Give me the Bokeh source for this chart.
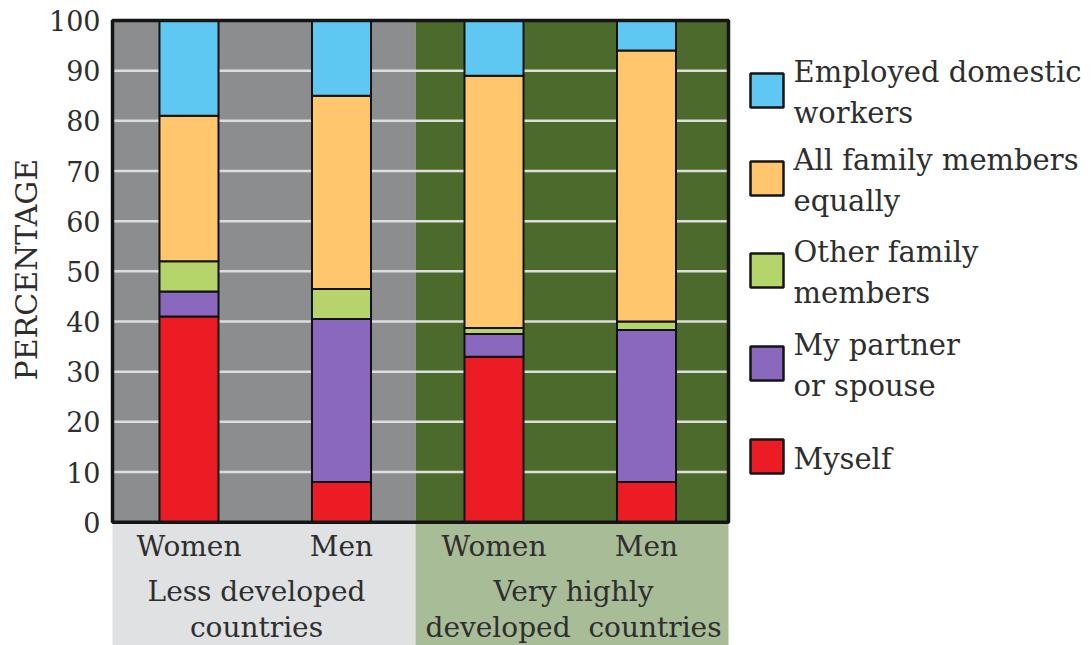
from bokeh.plotting import figure
from bokeh.models import ColumnDataSource, FixedTicker, Title
from bokeh.core.properties import value
from bokeh.embed import file_html
from bokeh.resources import INLINE

# ---- data ---------------------------------------------------------------
categories = ["Women", "Men", "Women", "Men"]
group_labels = ["Less developed\ncountries", "Very highly\ndeveloped\u00a0 countries"]

# stacked from the bottom up, percentages per bar
myself = [41, 8, 33, 8]
partner = [5, 32.5, 4.5, 30.3]
other_family = [6, 6, 1.2, 1.7]
all_equal = [29, 38.5, 50.3, 54]
employed = [19, 15, 11, 6]

series_names = ["myself", "partner", "other_family", "all_equal", "employed"]
series_labels = ["Myself", "My partner\nor spouse", "Other family\nmembers",
                 "All family members\nequally", "Employed domestic\nworkers"]
series_colors = ["#ec1c24", "#8a68bd", "#b5d56a", "#ffc66e", "#5ec8f2"]

y_ticks = [0, 10, 20, 30, 40, 50, 60, 70, 80, 90, 100]
grid_values = [10, 20, 30, 40, 50, 60, 70, 80, 90]

# ---- layout helpers (pixel positions -> data coordinates) ---------------
W, H = 1092, 645
FRAME_LEFT, FRAME_TOP = 108, 15
X0_PX, X_UNIT = 188.5, 152.5      # pixel of first bar centre, pixels per bar slot
Y0_PX, Y_UNIT = 521.7, 5.017      # pixel of 0 %, pixels per percent


def px_x(px):
    return (px - X0_PX) / X_UNIT


def px_y(py):
    return (Y0_PX - py) / Y_UNIT


x_left, x_split, x_right = px_x(112), px_x(415), px_x(728)

TEXT = "#2e2e2e"
FONT = value("DejaVu Serif")

p = figure(width=W, height=H, output_backend="svg", toolbar_location=None,
           x_range=(px_x(FRAME_LEFT), px_x(W)), y_range=(px_y(H), px_y(FRAME_TOP)),
           x_axis_location=None, min_border=0, min_border_left=FRAME_LEFT,
           min_border_top=FRAME_TOP, min_border_right=0, min_border_bottom=0)
p.outline_line_color = None
p.background_fill_color = "white"
p.border_fill_color = "white"
p.xgrid.visible = False
p.ygrid.visible = False

# y axis: tick labels only
ax = p.yaxis[0]
ax.ticker = FixedTicker(ticks=y_ticks)
ax.axis_line_color = None
ax.major_tick_line_color = None
ax.minor_tick_line_color = None
ax.major_tick_out = 0
ax.major_tick_in = 0
ax.major_label_standoff = 8
ax.major_label_text_font = "DejaVu Serif"
ax.major_label_text_font_size = "27px"
ax.major_label_text_color = TEXT

# y axis title, starting beside the lower part of the 0-100 panel
p.add_layout(Title(text="PERCENTAGE", align="left", offset=H - 380, standoff=4,
                   text_font="DejaVu Serif", text_font_size="30px",
                   text_font_style="normal", text_color=TEXT), "left")

# panel backgrounds
p.quad(left=[x_left, x_split], right=[x_split, x_right], bottom=[0, 0], top=[100, 100],
       fill_color=["#8b8d8f", "#4b6a2b"], line_color=None)
# label bands beneath the panels
p.quad(left=[x_left, x_split], right=[x_split, x_right], bottom=[px_y(H), px_y(H)],
       top=[0, 0], fill_color=["#dfe1e3", "#a9bc98"], line_color=None)

# horizontal grid lines
p.segment(x0=[x_left] * len(grid_values), x1=[x_right] * len(grid_values),
          y0=grid_values, y1=grid_values, line_color="#dedede", line_width=2.5)

# stacked bars
source = ColumnDataSource(dict(x=list(range(len(categories))), myself=myself,
                               partner=partner, other_family=other_family,
                               all_equal=all_equal, employed=employed))
p.vbar_stack(series_names, x="x", width=0.387, color=series_colors, source=source,
             line_color="#111111", line_width=2)

# panel frame
p.quad(left=[x_left], right=[x_right], bottom=[0], top=[100], fill_color=None,
       line_color="#151515", line_width=3.5)

# category and group labels
p.text(x=list(range(len(categories))), y=[px_y(546)] * len(categories), text=categories,
       text_font=FONT, text_font_size="28px", text_color=TEXT,
       text_align="center", text_baseline="middle")
p.text(x=[px_x(256), px_x(573)], y=[px_y(609)] * 2, text=group_labels,
       text_font=FONT, text_font_size="28px", text_color=TEXT,
       text_align="center", text_baseline="middle", text_line_height=1.12)

# legend, top entry first
legend_py = [456, 363, 270, 178, 90]
p.rect(x=[px_x(766.5)] * 5, y=[px_y(v) for v in legend_py], width=33, height=34,
       width_units="screen", height_units="screen", fill_color=series_colors,
       line_color="#151515", line_width=2.5)
p.text(x=[px_x(793)] * 5, y=[px_y(v + 2) for v in legend_py], text=series_labels,
       text_font=FONT, text_font_size="29px", text_color=TEXT,
       text_align="left", text_baseline="middle", text_line_height=1.18)

open("out.html", "w").write(file_html(p, INLINE))
